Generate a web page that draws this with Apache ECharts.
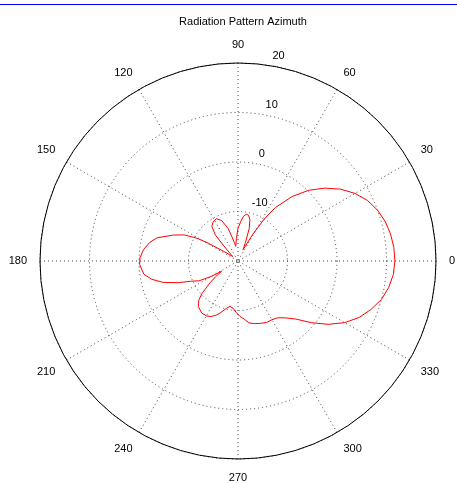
<!DOCTYPE html>
<html>
<head>
<meta charset="utf-8">
<title>Radiation Pattern Azimuth</title>
<script src="https://cdn.jsdelivr.net/npm/echarts@6/dist/echarts.min.js"></script>
<style>
    html, body { margin: 0; padding: 0; background: #fff; }
    #chart { width: 457px; height: 483px; }
    #topRule { position: absolute; left: 0; top: 4px; width: 457px; height: 1px; background: #0000ff; }
</style>
</head>
<body>
<div id="chart"></div>
<div id="topRule"></div>
<script>
// azimuth angle (deg) and gain (dB)
const angleDeg = [
    0, 5, 10, 15, 20, 25, 30, 35, 40, 45, 50, 55, 58, 61, 64, 66, 68, 71, 74, 77,
    80, 83, 86, 90, 94, 97, 99, 101, 104, 107, 112, 117, 122, 127, 131, 133, 136, 140, 143, 146,
    148, 149, 151, 154, 158, 164, 168, 173, 178, 182, 188, 192, 196, 200, 203, 207, 210, 212, 215, 218,
    222, 225, 229, 235, 240, 244, 248, 251, 256, 260, 264, 268, 272, 276, 280, 285, 290, 295, 300, 305,
    310, 315, 320, 325, 330, 335, 340, 345, 350, 355, 360
];
const gainDb = [
    11.7, 11.6, 11.3, 10.8, 10.0, 8.9, 7.3, 5.3, 2.9, 0.2, -3.0, -6.8, -10.0, -13.8, -16.8, -17.5, -16.0, -13.0, -11.3, -10.5,
    -10.4, -10.9, -12.0, -13.4, -15.4, -16.6, -17.0, -16.2, -15.0, -13.1, -11.2, -10.4, -10.6, -11.2, -13.0, -15.6, -17.7, -18.6, -17.9, -16.5,
    -15.0, -13.0, -10.5, -8.0, -6.0, -3.0, -1.8, -0.8, -0.2, -0.1, -0.8, -2.2, -4.3, -7.2, -9.5, -11.2, -13.8, -16.1, -14.5, -12.8,
    -10.2, -8.8, -7.8, -7.2, -7.2, -7.5, -8.2, -8.9, -10.1, -10.7, -10.4, -9.6, -8.8, -8.2, -7.3, -6.9, -6.6, -6.3, -6.3, -6.0,
    -5.0, -3.4, -0.6, 2.3, 4.9, 7.0, 8.6, 10.0, 10.9, 11.5, 11.7
];
const angleTickLabels = ["0", "30", "60", "90", "120", "150", "180", "210", "240", "270", "300", "330"];
const radialTickLabels = ["-10", "0", "10", "20"];

const chart = echarts.init(document.getElementById("chart"), null, { renderer: "canvas" });

const font = "Arial, 'Liberation Sans', sans-serif";
const center = [238, 261];
const radius = 198;
const dotted = { color: "#444", width: 1, type: [1, 3] };

chart.setOption({
    animation: false,
    backgroundColor: "#fff",
    title: {
        text: "Radiation Pattern Azimuth",
        left: 238,
        top: 11,
        textAlign: "center",
        textStyle: { fontFamily: font, fontSize: 11, fontWeight: "normal", color: "#000" },
    },
    polar: [
        { center, radius },
        { center, radius },
    ],
    angleAxis: [
        {
            polarIndex: 0,
            type: "value",
            min: 0,
            max: 360,
            interval: 30,
            startAngle: 0,
            clockwise: false,
            axisLine: { lineStyle: { color: "#000", width: 1 } },
            axisTick: { show: false },
            axisLabel: {
                margin: 13,
                fontFamily: font,
                fontSize: 11,
                color: "#000",
                formatter: (v) => angleTickLabels[v / 30] || "",
            },
            splitLine: { lineStyle: dotted },
        },
        {
            polarIndex: 1,
            type: "value",
            min: 0,
            max: 360,
            startAngle: 82,
            clockwise: false,
            show: false,
        },
    ],
    radiusAxis: [
        {
            polarIndex: 0,
            min: -20,
            max: 20,
            interval: 10,
            axisLine: { show: false },
            axisTick: { show: false },
            axisLabel: { show: false },
            // no ring at the -20 centre
            splitLine: { lineStyle: { ...dotted, color: ["rgba(0,0,0,0)", "#444", "#444", "#444", "#444"] } },
        },
        {
            polarIndex: 1,
            min: -20,
            max: 20,
            interval: 10,
            axisLine: { show: false },
            axisTick: { show: false },
            splitLine: { show: false },
            axisLabel: {
                margin: -7,
                align: "left",
                verticalAlign: "bottom",
                padding: [0, 0, 4, 0],
                fontFamily: font,
                fontSize: 11,
                color: "#000",
                formatter: (v) => (radialTickLabels.includes(String(v)) ? String(v) : ""),
            },
        },
    ],
    series: [
        {
            type: "line",
            coordinateSystem: "polar",
            polarIndex: 0,
            showSymbol: false,
            lineStyle: { color: "#ff0000", width: 1 },
            data: angleDeg.map((a, i) => [gainDb[i], a]),
        },
    ],
});
</script>
</body>
</html>
